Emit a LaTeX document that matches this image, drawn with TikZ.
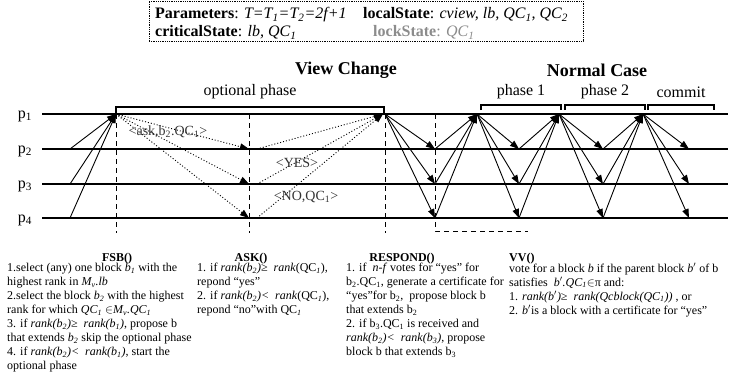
\documentclass[tikz,border=0pt]{standalone}
\usepackage{fontspec}
\setmainfont{Liberation Serif}
\usetikzlibrary{arrows.meta}
\newcommand\sbs[1]{\textsubscript{#1}}
\begin{document}
\begin{tikzpicture}[x=1pt,y=-1pt,
  proc/.style={line width=1.3pt},
  msg/.style={line width=0.9pt,-{Triangle[length=9pt,width=6.5pt]}},
  dmsg/.style={msg,dash pattern=on 1pt off 2pt},
  dline/.style={line width=0.8pt,dash pattern=on 5pt off 4pt},
  brk/.style={line width=1.2pt},
  lbl/.style={font=\fontsize{16}{18}\selectfont,inner sep=0pt},
  ttl/.style={font=\fontsize{18}{20}\selectfont\bfseries,inner sep=0pt},
  msgtxt/.style={font=\fontsize{14}{16}\selectfont,text=black!80,inner sep=0pt},
  plbl/.style={font=\fontsize{16}{18}\selectfont,inner sep=0pt,anchor=base},
  body/.style={font=\fontsize{12}{14}\selectfont,align=left,anchor=north west,inner sep=0pt},
  hdr/.style={font=\fontsize{12}{14}\selectfont\bfseries,inner sep=0pt,anchor=base},
  ptxt/.style={font=\fontsize{16}{18}\selectfont,inner sep=0pt,anchor=base west}]
\useasboundingbox (0,0) rectangle (732,388);
% parameter box
\node[draw,line width=0.8pt,dash pattern=on 0.8pt off 1pt,minimum width=434pt,minimum height=40pt,inner sep=0pt] (parbox) at (366,21) {};
\node[ptxt] (par1) at (155,19) {\textbf{Parameters}: \textit{T=T\sbs{1}=T\sbs{2}=2f+1}};
\node[ptxt] (par2) at (363,19) {\textbf{localState}: \textit{cview, lb, QC\sbs{1}, QC\sbs{2}}};
\node[ptxt] (par3) at (155,37) {\textbf{criticalState}: \textit{lb, QC\sbs{1}}};
\node[ptxt,text=black!45] (par4) at (373,37) {\textbf{lockState}: \textit{QC\sbs{1}}};
% titles
\node[ttl] (vc) at (346,70) {View Change};
\node[ttl] (nc) at (597,70) {Normal Case};
\node[lbl] (op) at (250,92) {optional phase};
\node[lbl] (ph1) at (521,92) {phase 1};
\node[lbl] (ph2) at (605,92) {phase 2};
\node[lbl] (cm) at (681,92) {commit};
% process lines
\foreach \i/\y in {1/114,2/149,3/184,4/218}{
  \coordinate (L\i s) at (42,\y);
  \coordinate (L\i e) at (728,\y);
  \draw[proc] (L\i s) -- (L\i e);
  \node[plbl] (P\i) at (25,\y+4) {p\sbs{\i}};
  \coordinate (s\i) at (70,\y);
  \coordinate (q\i) at (249,\y);
  \coordinate (r\i) at (257,\y);
  \coordinate (B0\i) at (435,\y);
  \coordinate (B1\i) at (519,\y);
  \coordinate (B2\i) at (603,\y);
  \coordinate (B3\i) at (689,\y);
}
\coordinate (a0) at (116,114);
\coordinate (a1) at (383,114);
\coordinate (A0) at (385,114);
\coordinate (A1) at (477,114);
\coordinate (A2) at (559,114);
\coordinate (A3) at (643,114);
% dashed markers
\coordinate (D1t) at (116,114); \coordinate (D1b) at (116,233);
\coordinate (D2t) at (249,114); \coordinate (D2b) at (249,233);
\coordinate (D3t) at (385,114); \coordinate (D3b) at (385,233);
\coordinate (D4t) at (435,114); \coordinate (D4c) at (435,231); \coordinate (D4e) at (528,231);
\draw[dline] (D1t) -- (D1b);
\draw[dline] (D2t) -- (D2b);
\draw[dline] (D3t) -- (D3b);
\draw[dline] (D4t) -- (D4c) -- (D4e);
% brackets
\coordinate (ob1) at (116,114); \coordinate (ob2) at (116,107);
\coordinate (ob3) at (384,107); \coordinate (ob4) at (384,114);
\draw[brk] (ob1) -- (ob2) -- (ob3) -- (ob4);
\foreach \n/\l/\r in {1/481/561,2/565/645,3/648/714}{
  \coordinate (pb\n a) at (\l,110); \coordinate (pb\n b) at (\l,105);
  \coordinate (pb\n c) at (\r,105); \coordinate (pb\n d) at (\r,110);
  \draw[brk] (pb\n a) -- (pb\n b) -- (pb\n c) -- (pb\n d);
}
% messages
\foreach \i in {2,3,4}{
  \draw[msg] (s\i) -- (a0);
  \draw[dmsg] (a0) -- (q\i);
  \draw[dmsg] (r\i) -- (a1);
  \draw[msg] (A0) -- (B0\i);
  \draw[msg] (B0\i) -- (A1);
  \draw[msg] (A1) -- (B1\i);
  \draw[msg] (B1\i) -- (A2);
  \draw[msg] (A2) -- (B2\i);
  \draw[msg] (B2\i) -- (A3);
  \draw[msg] (A3) -- (B3\i);
}
\node[msgtxt] (m1) at (168,132) {<ask,b\sbs{2}.QC\sbs{1}>};
\node[msgtxt] (m2) at (297,163) {<YES>};
\node[msgtxt] (m3) at (306,197) {<NO,QC\sbs{1}>};
% bottom texts
\node[hdr] (hf) at (117,261) {FSB()};
\node[body] (tf) at (7,263) {1.select (any) one block \textit{b\sbs{1}} with the\\
highest rank in \textit{M\sbs{v}.lb}\\
2.select the block \textit{b\sbs{2}} with the highest\\
rank for which \textit{QC\sbs{1}} $\in$\textit{M\sbs{v}.QC\sbs{1}}\\
3. if \textit{rank(b\sbs{2})≥}\ \ \textit{rank(b\sbs{1})}, propose b\\
that extends \textit{b\sbs{2}} skip the optional phase\\
4. if \textit{rank(b\sbs{2})<}\ \ \textit{rank(b\sbs{1})}, start the\\
optional phase};
\node[hdr] (ha) at (251,261) {ASK()};
\node[body] (ta) at (197,263) {1. if \textit{rank(b\sbs{2})≥}\ \ \textit{rank}(QC\sbs{\textit{1}}),\\
repond “yes”\\
2. if \textit{rank(b\sbs{2})<}\ \ \textit{rank}(QC\sbs{\textit{1}}),\\
repond “no”with QC\sbs{\textit{1}}};
\node[hdr] (hr) at (402,261) {RESPOND()};
\node[body] (tr) at (346,263) {1. if \ \textit{n-f} votes for “yes” for\\
b\sbs{2}.QC\sbs{1}, generate a certificate for\\
“yes”for b\sbs{2},\ \ propose block b\\
that extends b\sbs{2}\\
2. if b\sbs{3}.QC\sbs{1} is received and\\
\textit{rank(b\sbs{2})<}\ \ \textit{rank(b\sbs{3})}, propose\\
block b that extends b\sbs{3}};
\node[hdr,anchor=base west] (hv) at (509,261) {VV()};
\node[body] (tv) at (509,263) {vote for a block \textit{b} if the parent block \textit{b}$'$ of b\\
satisfies \ \textit{b}$'$\textit{.QC\sbs{1}}$\in$π and:\\
1. \textit{rank(b$'$)≥}\ \ \textit{rank(Qcblock(QC\sbs{1}))} , or\\
2. \textit{b}$'$is a block with a certificate for “yes”};
\end{tikzpicture}
\end{document}
